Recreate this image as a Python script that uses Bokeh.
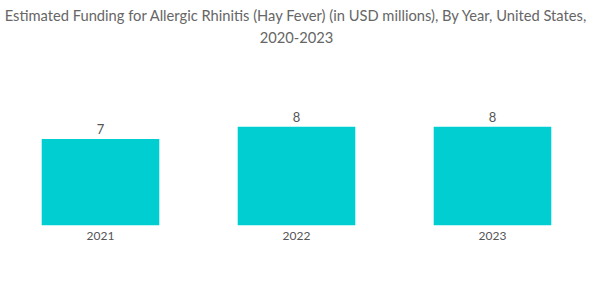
from bokeh.plotting import figure
from bokeh.models import ColumnDataSource, Title, Range1d
from bokeh.core.properties import value
from bokeh.embed import file_html
from bokeh.resources import INLINE

years = ["2021", "2022", "2023"]
funding = [7, 8, 8]
labels = ["7", "8", "8"]

title_line1 = "Estimated Funding for Allergic Rhinitis (Hay Fever) (in USD millions), By Year, United States,"
title_line2 = "2020-2023"

src = ColumnDataSource(dict(x=years, y=funding, lab=labels))

p = figure(width=600, height=302, x_range=years, y_range=Range1d(0, 14.33),
           output_backend="svg", toolbar_location=None,
           min_border_left=2, min_border_right=10, min_border_top=48, min_border_bottom=77)

p.add_layout(Title(text=title_line2, align="center", text_font="Lato", text_font_size="14.7px",
                   text_font_style="normal", text_color="#666666", standoff=12,
                   text_line_height=0.8), "above")
p.add_layout(Title(text=title_line1, align="center", text_font="Lato", text_font_size="14.7px",
                   text_font_style="normal", text_color="#666666", standoff=0,
                   text_line_height=0.8), "above")

p.vbar(x="x", top="y", width=0.6, source=src, color="#00CED1", line_color=None)
p.text(x="x", y="y", text="lab", source=src, text_align="center", text_baseline="bottom",
       y_offset=-5, text_font=value("Lato"), text_font_size="13px", text_color="#555555")

p.yaxis.visible = False
p.xgrid.visible = False
p.ygrid.visible = False
p.outline_line_color = None
p.xaxis.axis_line_color = None
p.xaxis.major_tick_line_color = None
p.xaxis.minor_tick_line_color = None
p.xaxis.major_label_text_font = "Lato"
p.xaxis.major_label_text_font_size = "12px"
p.xaxis.major_label_text_color = "#555555"
p.xaxis.major_label_standoff = 0
p.x_range.range_padding = 0

open("out.html", "w").write(file_html(p, INLINE))
